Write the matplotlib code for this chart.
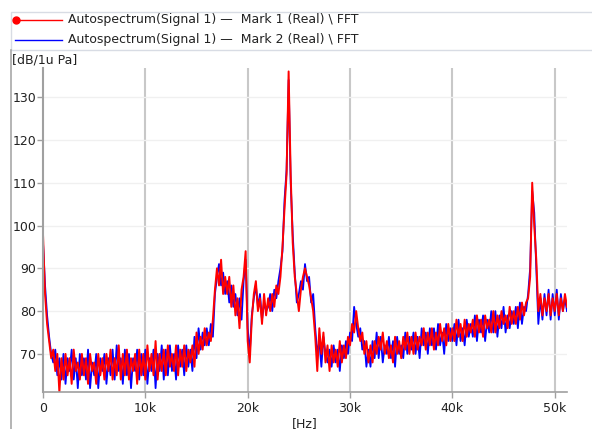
import matplotlib
matplotlib.use("Agg")
import matplotlib.pyplot as plt
import numpy as np
from matplotlib.lines import Line2D
from matplotlib.patches import Rectangle

# spectrum values, one value per 200 Hz bin
BIN_HZ = 200

mark1_db = [
    98, 84, 77, 73, 69, 71, 66, 70, 61, 69,
    64, 70, 65, 69, 63, 71, 66, 68, 64, 70,
    65, 69, 63, 70, 66, 68, 63, 70, 65, 69,
    64, 70, 66, 71, 64, 69, 65, 72, 64, 70,
    65, 71, 64, 69, 66, 70, 63, 71, 65, 70,
    64, 72, 66, 70, 65, 73, 64, 70, 66, 71,
    65, 72, 67, 70, 66, 72, 65, 71, 67, 72,
    66, 71, 68, 72, 67, 75, 70, 74, 71, 76,
    72, 75, 73, 78, 85, 90, 86, 92, 84, 88,
    84, 88, 81, 86, 79, 83, 76, 85, 88, 94,
    73, 68, 78, 84, 87, 80, 83, 77, 84, 79,
    83, 80, 84, 81, 86, 84, 88, 95, 104, 112,
    136, 112, 96, 88, 84, 80, 85, 88, 90, 88,
    86, 83, 80, 74, 66, 76, 70, 75, 68, 72,
    66, 72, 68, 71, 67, 73, 68, 72, 69, 74,
    72, 77, 75, 80, 76, 73, 75, 70, 73, 68,
    72, 68, 73, 70, 74, 71, 75, 70, 73, 69,
    72, 68, 74, 70, 73, 69, 74, 71, 75, 70,
    74, 70, 75, 71, 74, 72, 76, 71, 75, 72,
    76, 71, 75, 72, 77, 73, 76, 72, 77, 73,
    76, 73, 78, 74, 77, 73, 78, 74, 77, 75,
    78, 74, 79, 75, 78, 74, 79, 76, 78, 75,
    80, 75, 79, 76, 80, 77, 79, 76, 81, 77,
    80, 77, 81, 78, 82, 79, 82, 83, 88, 110,
    100, 92, 80, 84, 79, 83, 80, 84, 79, 83,
    80, 84, 79, 83, 80, 84, 81,
]

mark2_db = [
    96, 86, 79, 74, 70, 68, 71, 65, 69, 64,
    70, 63, 69, 66, 71, 64, 69, 62, 70, 65,
    69, 64, 71, 62, 68, 65, 70, 62, 69, 66,
    70, 63, 69, 65, 71, 64, 72, 66, 69, 63,
    71, 65, 70, 62, 69, 66, 71, 64, 70, 65,
    71, 63, 69, 66, 71, 62, 70, 66, 72, 64,
    71, 65, 72, 66, 70, 64, 72, 67, 71, 65,
    72, 67, 71, 66, 74, 69, 76, 71, 75, 72,
    76, 72, 77, 74, 84, 88, 91, 86, 89, 84,
    87, 82, 86, 81, 84, 79, 83, 78, 87, 92,
    76, 70, 79, 83, 86, 81, 84, 78, 82, 80,
    81, 84, 80, 85, 83, 87, 90, 94, 106, 113,
    134, 110, 98, 89, 82, 84, 87, 85, 91, 87,
    88, 82, 84, 76, 70, 73, 67, 74, 70, 68,
    71, 67, 72, 68, 71, 66, 72, 69, 73, 70,
    75, 73, 81, 77, 74, 76, 71, 73, 67, 71,
    67, 73, 69, 75, 69, 74, 68, 72, 70, 74,
    69, 73, 67, 74, 70, 72, 69, 75, 70, 74,
    71, 75, 70, 74, 69, 76, 72, 75, 70, 76,
    72, 76, 71, 77, 72, 75, 70, 77, 73, 76,
    73, 77, 72, 78, 73, 76, 72, 78, 74, 77,
    74, 79, 73, 78, 75, 79, 73, 78, 75, 80,
    75, 80, 74, 79, 76, 81, 75, 79, 76, 80,
    77, 81, 76, 82, 77, 81, 80, 84, 90, 108,
    103, 90, 77, 83, 78, 84, 79, 85, 78, 84,
    79, 85, 78, 84, 80, 83, 80,
]

x_ticks = [0, 10000, 20000, 30000, 40000, 50000]
x_tick_labels = ["0", "10k", "20k", "30k", "40k", "50k"]
y_ticks = [70, 80, 90, 100, 110, 120, 130]

legend_names = ["Autospectrum(Signal 1) \u2014  Mark 1 (Real) \\ FFT",
                "Autospectrum(Signal 1) \u2014  Mark 2 (Real) \\ FFT"]

plt.rcParams["font.family"] = ["DejaVu Sans"]

W, H = 592, 429
fig = plt.figure(figsize=(W / 100, H / 100), dpi=100)

ax = fig.add_axes([43 / W, 1 - 392 / H, (567 - 43) / W, (392 - 68) / H])

freq = np.arange(len(mark1_db)) * BIN_HZ
ax.plot(np.arange(len(mark2_db)) * BIN_HZ, mark2_db, color="#0000ff", lw=1.3)
ax.plot(freq, mark1_db, color="#ff0000", lw=1.4)

ax.set_xlim(0, 51200)
ax.set_ylim(61.1, 136.8)
ax.set_xticks(x_ticks)
ax.set_xticklabels(x_tick_labels)
ax.set_yticks(y_ticks)

# vertical grid darker, horizontal grid very faint
for xv in x_ticks[1:]:
    ax.axvline(xv, color="#c8c8c8", lw=1.5, zorder=0)
for yv in y_ticks:
    ax.axhline(yv, color="#f0f0f0", lw=1.0, zorder=0)

for s in ("top", "right"):
    ax.spines[s].set_visible(False)
ax.spines["left"].set_color("#a0a0a0")
ax.spines["bottom"].set_color("#a0a0a0")
ax.spines["left"].set_linewidth(1.5)
ax.spines["bottom"].set_linewidth(1.2)
ax.tick_params(axis="both", colors="#a0a0a0", labelcolor="#222222",
               labelsize=9, length=4, width=1)
ax.tick_params(axis="y", pad=1)

# frame + legend box
fig.add_artist(Line2D([11 / W, 11 / W], [0, 1 - 50 / H],
                      transform=fig.transFigure, color="#a8a8a8", lw=1.2))
fig.add_artist(Rectangle((11 / W, 1 - 50 / H), 1.0, 38 / H,
                         transform=fig.transFigure, fill=False,
                         edgecolor="#d8dce4", lw=1.0))

for i, (name, col) in enumerate(zip(legend_names, ["#ff0000", "#0000ff"])):
    yy = 1 - (20 + i * 20) / H
    fig.add_artist(Line2D([15 / W, 62 / W], [yy, yy],
                          transform=fig.transFigure, color=col, lw=1.0))
    fig.text(68 / W, yy, name, fontsize=9, va="center", ha="left",
             color="#222222")
fig.add_artist(Line2D([16 / W], [1 - 20 / H], transform=fig.transFigure,
                      marker="o", markersize=5, color="#ff0000"))

fig.text(12 / W, 1 - 60 / H, "[dB/1u Pa]", fontsize=9, va="center",
         ha="left", color="#222222")
fig.text(305 / W, 1 - 424 / H, "[Hz]", fontsize=9, va="center",
         ha="center", color="#222222")

fig.savefig("out.png", dpi=100)
